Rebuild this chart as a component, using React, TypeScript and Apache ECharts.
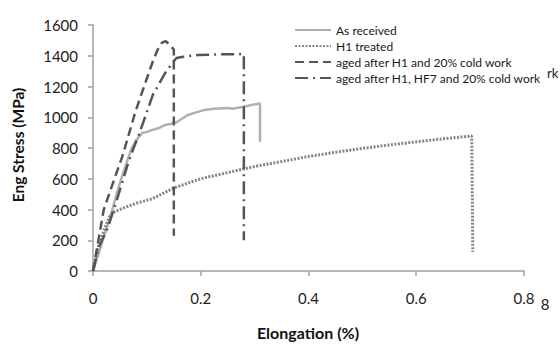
import React, { useEffect, useRef } from "react";
import * as echarts from "echarts";

const seriesNames = [
  "As received",
  "H1 treated",
  "aged after H1 and 20% cold work",
  "aged after H1, HF7 and 20% cold work",
];

const asReceived: number[][] = [
  [0, 0], [0.02, 220], [0.032, 351], [0.046, 527], [0.06, 680], [0.072, 800],
  [0.08, 850], [0.091, 897], [0.1, 905], [0.11, 917], [0.122, 930], [0.134, 950],
  [0.145, 958], [0.156, 969], [0.165, 990], [0.176, 1015], [0.19, 1030],
  [0.204, 1045], [0.225, 1055], [0.249, 1060], [0.26, 1056], [0.278, 1067],
  [0.297, 1082], [0.31, 1090], [0.31, 840],
];

const h1Treated: number[][] = [
  [0, 0], [0.01, 160], [0.02, 260], [0.032, 365], [0.04, 385], [0.06, 415],
  [0.08, 440], [0.11, 470], [0.15, 540], [0.2, 600], [0.25, 640], [0.3, 680],
  [0.35, 712], [0.4, 745], [0.45, 772], [0.5, 797], [0.55, 820], [0.6, 840],
  [0.65, 860], [0.703, 878], [0.705, 124],
];

const agedH1: number[][] = [
  [0, 0], [0.01, 200], [0.02, 400], [0.037, 572], [0.054, 741], [0.065, 870],
  [0.078, 1028], [0.097, 1223], [0.11, 1353], [0.12, 1440], [0.128, 1485],
  [0.135, 1495], [0.143, 1470], [0.15, 1440], [0.15, 230],
];

const agedHF7: number[][] = [
  [0, 0], [0.01, 150], [0.028, 286], [0.045, 470], [0.063, 677], [0.074, 787],
  [0.087, 904], [0.111, 1145], [0.134, 1288], [0.149, 1360], [0.155, 1385],
  [0.165, 1392], [0.195, 1405], [0.24, 1410], [0.28, 1411], [0.28, 200],
];

const xTicks = { min: 0, max: 0.8, interval: 0.2 };
const yTicks = { min: 0, max: 1600, interval: 200 };

const FONT = "Lato";

export default function App() {
  const ref = useRef<HTMLDivElement>(null);
  useEffect(() => {
    if (!ref.current) return;
    const chart = echarts.init(ref.current, undefined, { renderer: "svg" });
    const axisColor = "#a0a0a0";
    chart.setOption({
      animation: false,
      backgroundColor: "#ffffff",
      grid: { left: 93, right: 36, top: 25, bottom: 73, containLabel: false },
      legend: {
        orient: "vertical",
        left: 294,
        top: 24,
        itemWidth: 36,
        itemHeight: 12,
        itemGap: 4,
        padding: 0,
        itemStyle: { opacity: 0 },
        textStyle: { fontFamily: FONT, fontSize: 12, color: "#1a1a1a" },
        data: seriesNames,
      },
      xAxis: {
        type: "value",
        ...xTicks,
        axisLine: { show: true, lineStyle: { color: axisColor, width: 1.5 } },
        axisTick: { show: true, length: 5, lineStyle: { color: axisColor, width: 1.5 } },
        axisLabel: { margin: 19, fontFamily: FONT, fontSize: 15, color: "#222" },
        splitLine: { show: false },
      },
      yAxis: {
        type: "value",
        ...yTicks,
        axisLine: { show: true, lineStyle: { color: axisColor, width: 1.5 } },
        axisTick: { show: true, length: 5, lineStyle: { color: axisColor, width: 1.5 } },
        axisLabel: {
          margin: 15,
          fontFamily: FONT,
          fontSize: 15,
          color: "#222",
          formatter: (v: number) => String(v),
        },
        splitLine: { show: false },
      },
      graphic: [
        {
          type: "text",
          x: 18,
          y: 145,
          rotation: Math.PI / 2,
          style: {
            text: "Eng Stress (MPa)",
            align: "center",
            verticalAlign: "middle",
            font: `bold 15.5px ${FONT}`,
            fill: "#111",
          },
        },
        {
          type: "text",
          x: 308,
          y: 332,
          style: {
            text: "Elongation (%)",
            align: "center",
            verticalAlign: "middle",
            font: `bold 16px ${FONT}`,
            fill: "#111",
          },
        },
        {
          type: "text",
          x: 547,
          y: 73,
          style: { text: "rk", align: "left", verticalAlign: "middle", font: `13px ${FONT}`, fill: "#222" },
        },
        {
          type: "text",
          x: 545,
          y: 304,
          style: { text: "8", align: "center", verticalAlign: "middle", font: `15px ${FONT}`, fill: "#222" },
        },
      ],
      series: [
        {
          name: seriesNames[0],
          type: "line",
          data: asReceived,
          symbol: "none",
          lineStyle: { color: "#b0b0b0", width: 2.5, type: "solid" },
          itemStyle: { color: "#b0b0b0" },
        },
        {
          name: seriesNames[1],
          type: "line",
          data: h1Treated,
          symbol: "none",
          lineStyle: { color: "#858585", width: 3, type: [2, 1.5] },
          itemStyle: { color: "#858585" },
        },
        {
          name: seriesNames[2],
          type: "line",
          data: agedH1,
          symbol: "none",
          lineStyle: { color: "#555555", width: 2.5, type: [9, 5] },
          itemStyle: { color: "#555555" },
        },
        {
          name: seriesNames[3],
          type: "line",
          data: agedHF7,
          symbol: "none",
          lineStyle: { color: "#555555", width: 2.5, type: [13, 5, 2, 5] },
          itemStyle: { color: "#555555" },
        },
      ],
    });
    return () => chart.dispose();
  }, []);
  return (
    <div
      ref={ref}
      style={{ position: "fixed", left: 0, top: 0, width: 560, height: 344 }}
    />
  );
}
